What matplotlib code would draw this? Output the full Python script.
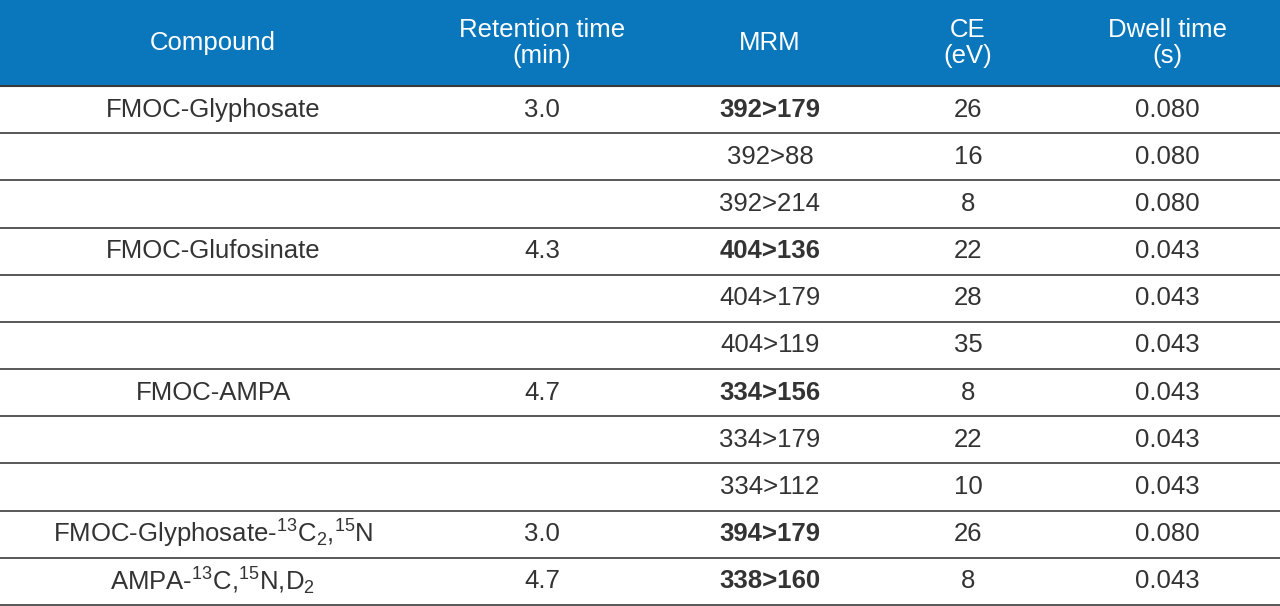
import matplotlib.pyplot as plt

plt.rcParams['font.family'] = ['Liberation Sans', 'DejaVu Sans']
plt.rcParams['mathtext.fontset'] = 'custom'
plt.rcParams['mathtext.rm'] = 'Liberation Sans'
plt.rcParams['mathtext.it'] = 'Liberation Sans'
plt.rcParams['mathtext.bf'] = 'Liberation Sans:bold'

headers = ["Compound", "Retention time\n(min)", "MRM", "CE\n(eV)", "Dwell time\n(s)"]
compounds = ["FMOC-Glyphosate", "", "", "FMOC-Glufosinate", "", "", "FMOC-AMPA", "", "",
             r"FMOC-Glyphosate-$^{13}$C$_2$,$^{15}$N", r"AMPA-$^{13}$C,$^{15}$N,D$_2$"]
retention = ["3.0", "", "", "4.3", "", "", "4.7", "", "", "3.0", "4.7"]
mrm = ["392>179", "392>88", "392>214", "404>136", "404>179", "404>119",
       "334>156", "334>179", "334>112", "394>179", "338>160"]
mrm_bold = [True, False, False, True, False, False, True, False, False, True, True]
ce = ["26", "16", "8", "22", "28", "35", "8", "22", "10", "26", "8"]
dwell = ["0.080", "0.080", "0.080", "0.043", "0.043", "0.043",
         "0.043", "0.043", "0.043", "0.080", "0.043"]

col_x = [213, 542, 770, 968, 1167]
header_h = 86
row_h = (605 - header_h) / len(mrm)
text_color = "#333333"

fig = plt.figure(figsize=(12.8, 6.06), dpi=100)
ax = fig.add_axes([0, 0, 1, 1])
ax.set_xlim(0, 1280)
ax.set_ylim(606, 0)
ax.axis("off")

ax.add_patch(plt.Rectangle((0, 0), 1280, header_h, color="#0a77bd", lw=0))
for x, h in zip(col_x, headers):
    ax.text(x, header_h / 2, h, ha="center", va="center", color="white",
            fontsize=18.5, linespacing=1.15)

ax.plot([0, 1280], [header_h, header_h], color="#3a3a3a", lw=1.5)
for i in range(len(mrm)):
    yc = header_h + (i + 0.5) * row_h
    yb = header_h + (i + 1) * row_h
    ax.plot([0, 1280], [yb, yb], color="#4a4a4a", lw=1.3)
    row = [compounds[i], retention[i], mrm[i], ce[i], dwell[i]]
    for j, (x, t) in enumerate(zip(col_x, row)):
        w = "bold" if (j == 2 and mrm_bold[i]) else "normal"
        ax.text(x, yc, t, ha="center", va="center", color=text_color,
                fontsize=18.5, fontweight=w)

fig.savefig("out.png", dpi=100)
